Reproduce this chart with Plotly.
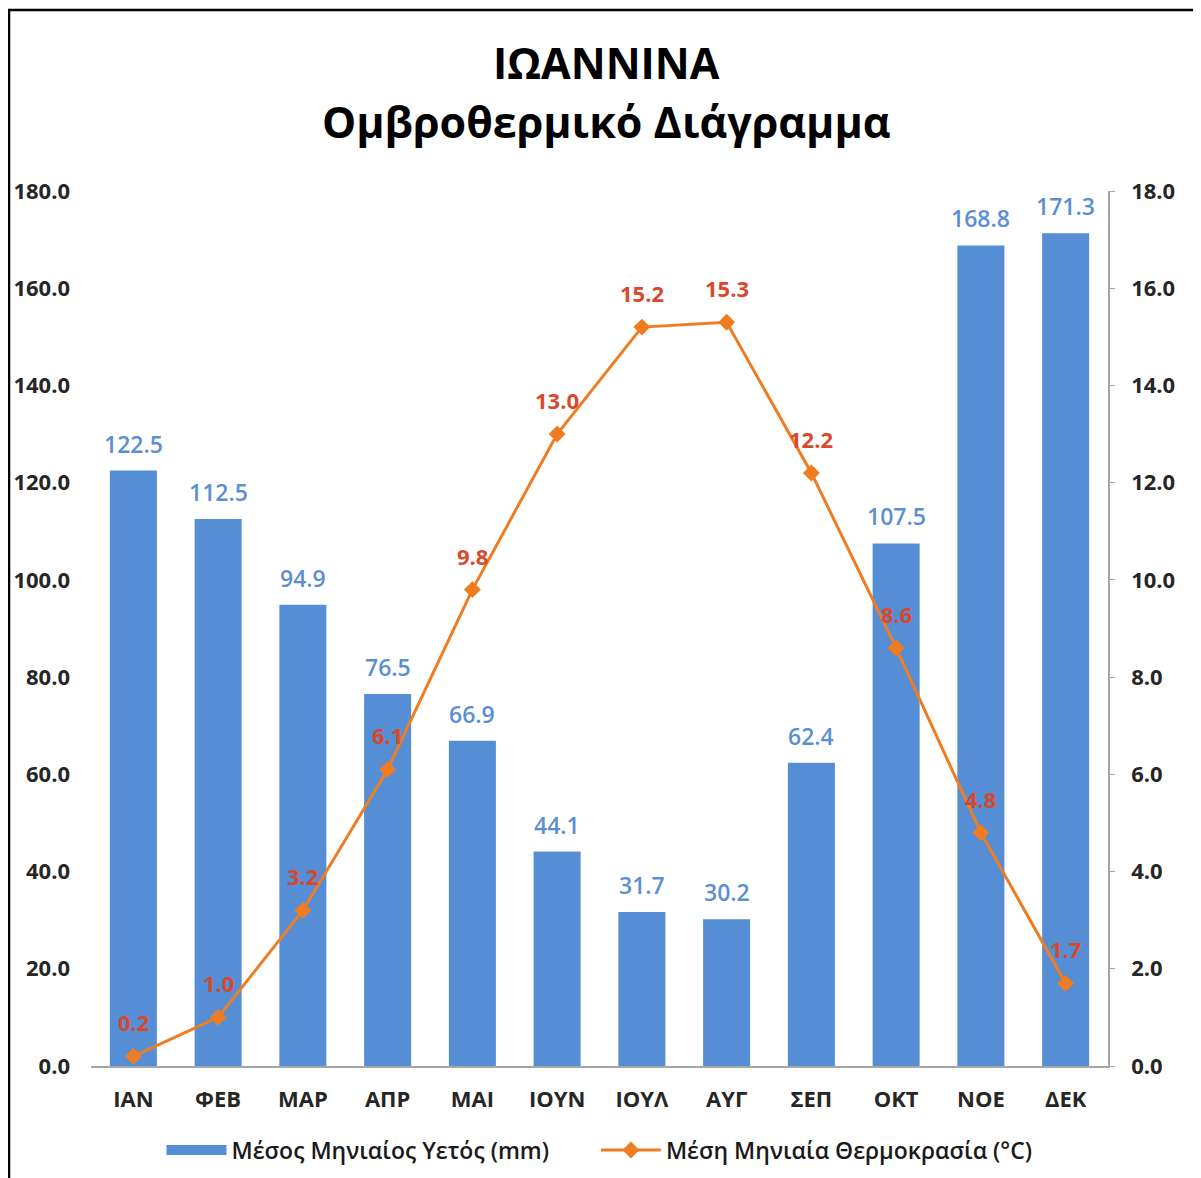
import plotly.graph_objects as go

months = ["ΙΑΝ", "ΦΕΒ", "ΜΑΡ", "ΑΠΡ", "ΜΑΙ", "ΙΟΥΝ", "ΙΟΥΛ", "ΑΥΓ", "ΣΕΠ", "ΟΚΤ", "ΝΟΕ", "ΔΕΚ"]
rain = [122.5, 112.5, 94.9, 76.5, 66.9, 44.1, 31.7, 30.2, 62.4, 107.5, 168.8, 171.3]
temp = [0.2, 1.0, 3.2, 6.1, 9.8, 13.0, 15.2, 15.3, 12.2, 8.6, 4.8, 1.7]

font = "Open Sans"
bar_col = "#558ED5"
line_col = "#F07C22"
axis_col = "#A6A6A6"
rain_name = "Μέσος Μηνιαίος Υετός (mm)"
temp_name = "Μέση Μηνιαία Θερμοκρασία (°C)"

fig = go.Figure()
fig.add_trace(go.Bar(x=months, y=rain, name=rain_name, showlegend=False,
                     marker=dict(color=bar_col, line=dict(width=0))))
# wide legend swatch for the bars (excel style), padded to space the items out
fig.add_trace(go.Scatter(x=[None], y=[None], mode="lines", name=rain_name + "\u00a0" * 7,
                         line=dict(color=bar_col, width=15)))
fig.add_trace(go.Scatter(x=months, y=temp, name=temp_name,
                         yaxis="y2", mode="lines+markers",
                         line=dict(color=line_col, width=3),
                         marker=dict(symbol="diamond", size=13, color=line_col)))

# data labels
for m, r in zip(months, rain):
    fig.add_annotation(x=m, y=r, xref="x", yref="y", text=f"{r:.1f}", showarrow=False,
                       yanchor="middle", yshift=27,
                       font=dict(family=font, size=23, color="#5B8FD3", weight=600))
for m, t in zip(months, temp):
    fig.add_annotation(x=m, y=t, xref="x", yref="y2", text=f"<b>{t:.1f}</b>", showarrow=False,
                       yanchor="middle", yshift=34,
                       font=dict(family=font, size=22, color="#D9482B"))

# title
fig.add_annotation(x=0.507, y=1.1474, xref="paper", yref="paper", text="<b>ΙΩΑΝΝΙΝΑ</b>",
                   showarrow=False, yanchor="middle",
                   font=dict(family=font, size=43, color="black"))
fig.add_annotation(x=0.507, y=1.0789, xref="paper", yref="paper", text="<b>Ομβροθερμικό Διάγραμμα</b>",
                   showarrow=False, yanchor="middle",
                   font=dict(family=font, size=43, color="black"))

# outer frame (right and bottom edges run off the picture)
fig.add_shape(type="rect", xref="paper", yref="paper", x0=-0.0806, x1=1.11, y0=-0.15, y1=1.2069,
              line=dict(color="black", width=2.5), layer="above")

tick_font = dict(family=font, size=22, color="#262626", weight="bold")

fig.update_layout(
    width=1193, height=1170,
    margin=dict(l=83, r=93, t=183, b=112, autoexpand=False),
    paper_bgcolor="white", plot_bgcolor="white",
    bargap=0.445,
    showlegend=True,
    legend=dict(orientation="h", x=0.5, xanchor="center", y=-0.096, yanchor="middle",
                font=dict(family=font, size=23, color="#1a1a1a", weight=600), itemwidth=60),
    xaxis=dict(range=[-0.5, 11.5], showline=True, linecolor=axis_col, linewidth=1.5,
               showgrid=False, ticks="", tickfont=tick_font, ticklabelstandoff=13,
               automargin=False),
    yaxis=dict(range=[0, 180], dtick=20, tickformat=".1f", showgrid=False, showline=False,
               zeroline=False, ticks="", tickfont=tick_font, ticklabelstandoff=20,
               automargin=False),
    yaxis2=dict(range=[0, 18], dtick=2, tickformat=".1f", overlaying="y", side="right",
                showgrid=False, zeroline=False, showline=True, linecolor=axis_col, linewidth=1.5,
                ticks="outside", ticklen=5, tickcolor=axis_col, tickfont=tick_font,
                ticklabelstandoff=12, automargin=False),
)

fig.write_html("out.html")
